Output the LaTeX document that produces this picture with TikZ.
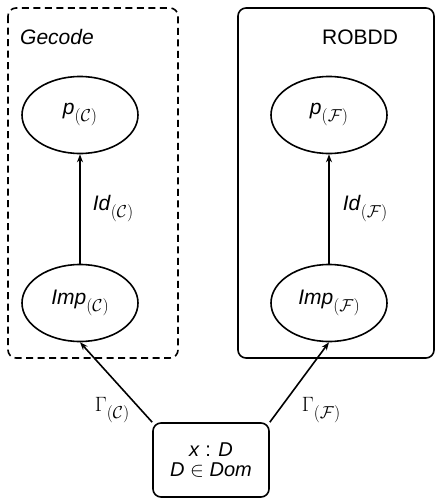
\documentclass[tikz,border=0pt]{standalone}
\usepackage{fontspec}
\setmainfont{Liberation Sans}
\usetikzlibrary{arrows.meta,shapes.geometric}
\newcommand{\sbC}{\raisebox{-7pt}{\fontsize{17}{17}\selectfont$(\mathcal{C})$}}
\newcommand{\sbF}{\raisebox{-7pt}{\fontsize{17}{17}\selectfont$(\mathcal{F})$}}
\tikzset{
  ell/.style={draw,ellipse,line width=1.6pt,minimum width=116pt,minimum height=77pt,inner sep=0pt},
  grp/.style={rounded corners=8pt,line width=1.6pt},
  arr/.style={line width=1.6pt,-{Stealth[length=8pt,width=6pt]}},
  lbl/.style={inner sep=0pt},
}
\begin{document}
\begin{tikzpicture}[x=1pt,y=-1pt,font=\fontsize{21}{22}\selectfont]
\useasboundingbox (0,0) rectangle (436,498);
\draw[grp,dash pattern=on 7pt off 4.5pt] (8,8) rectangle (178,358);
\draw[grp] (238,8) rectangle (434,358);
\node[lbl,anchor=base west] (gecode) at (20,44) {\textit{Gecode}};
\node[lbl,anchor=base west] (robdd) at (322,44) {ROBDD};
\node[ell] (pC) at (80,115) {\textit{p}\sbC};
\node[ell] (ImpC) at (80,303) {\textit{Imp}\sbC};
\node[ell] (pF) at (329,115) {\textit{p}\sbF};
\node[ell] (ImpF) at (329,303) {\textit{Imp}\sbF};
\node[draw,line width=1.6pt,rounded corners=8pt,minimum width=116pt,minimum height=74pt,align=center,inner sep=0pt,font=\fontsize{20}{20}\selectfont] (dom) at (211,460) {\textit{x} : \textit{D}\\ \textit{D} $\in$ \textit{Dom}};
\draw[arr] (ImpC) -- node[lbl,right=12pt] {\textit{Id}\sbC} (pC);
\draw[arr] (ImpF) -- node[lbl,right=13pt] {\textit{Id}\sbF} (pF);
\draw[arr] (dom.north west) -- (ImpC.south);
\draw[arr] (dom.north east) -- (ImpF.south);
\node[lbl] (gC) at (112,410) {$\Gamma$\sbC};
\node[lbl] (gF) at (321,410) {$\Gamma$\sbF};
\end{tikzpicture}
\end{document}
